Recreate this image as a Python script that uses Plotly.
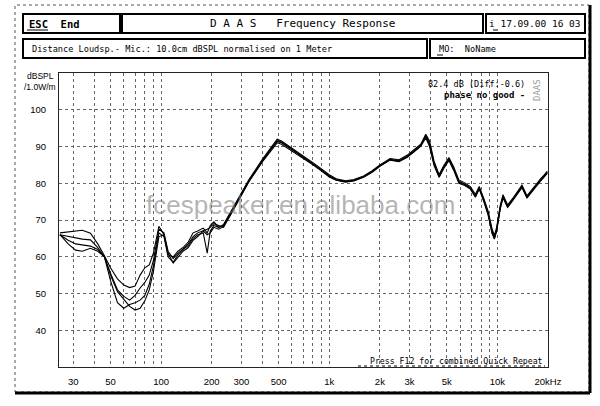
import plotly.graph_objects as go
import math

# ---------------- data ----------------
freq = [25, 28, 31, 34, 38, 42, 46, 50, 55, 60, 65, 70, 75, 80, 85, 90, 97, 104, 110, 118,
        126, 135, 145, 155, 165, 178, 188, 196, 206, 220, 235, 260, 300, 333, 400, 450, 490, 520, 600, 700,
        800, 900, 1000, 1100, 1250, 1400, 1600, 1800, 2000, 2300, 2600, 2900, 3200, 3500, 3750, 3950, 4200, 4500, 4800, 5150,
        5500, 5900, 6400, 6900, 7400, 7800, 8300, 8800, 9300, 9600, 9900, 10400, 10800, 11500, 12300, 13200, 14000, 15000, 16000, 17000,
        18000, 19000, 19800]

spl_a = [66.5, 66.8, 67.0, 67.2, 66.4, 63.5, 60.3, 57.0, 54.0, 52.3, 51.6, 52.0, 55.0, 57.0, 57.8, 61.0, 68.3, 66.0, 60.5, 60.0,
         61.5, 62.5, 64.0, 66.5, 67.0, 67.8, 66.5, 68.5, 69.5, 68.0,
         68.5, 72.0, 77.0, 80.7, 86.2, 89.5, 91.6, 91.2, 89.3, 87.2, 85.3, 83.6, 82.0, 81.0, 80.5, 80.8, 81.8, 83.2, 84.8, 86.5,
         86.1, 87.3, 88.8, 90.3, 93.0, 91.0, 85.5, 82.0, 84.5, 86.6, 84.0, 80.5, 79.8, 78.8, 76.6, 78.8, 75.5, 72.0, 67.0, 65.2,
         67.5, 73.5, 76.5, 73.8, 75.5, 77.5, 79.2, 76.3, 78.0, 79.5, 80.8, 82.0, 83.0]

spl_b = [66.0, 65.5, 65.0, 64.8, 64.6, 62.5, 60.0, 55.5, 51.0, 49.2, 48.2, 49.5, 51.5, 53.0, 55.0, 59.0, 67.5, 66.5, 61.5, 59.5,
         61.0, 62.0, 63.5, 65.5, 66.5, 67.0, 67.5, 68.0, 69.0, 68.5,
         68.0, 71.5, 76.6, 80.4, 85.8, 89.0, 91.0, 90.6, 88.8, 86.8, 85.0, 83.3, 81.7, 80.8, 80.3, 80.6, 81.6, 83.0, 84.6, 86.3,
         85.9, 87.0, 88.5, 90.0, 92.3, 90.0, 84.8, 81.6, 84.0, 86.2, 83.5, 80.0, 79.4, 78.4, 76.2, 78.4, 75.0, 71.4, 66.3, 64.8,
         67.0, 73.0, 76.0, 73.4, 75.2, 77.2, 78.8, 76.0, 77.7, 79.2, 80.5, 81.7, 82.7]

spl_c = [66.0, 64.5, 63.5, 63.2, 62.9, 62.0, 60.0, 53.5, 47.5, 46.0, 47.0, 47.5, 48.2, 49.5, 52.5, 57.5, 66.5, 65.5, 60.0, 58.5,
         60.5, 62.0, 63.0, 65.0, 66.0, 66.5, 61.0, 67.0, 68.5, 68.0,
         68.8, 72.3, 77.3, 81.0, 86.5, 89.8, 92.0, 91.5, 89.6, 87.5, 85.6, 83.9, 82.3, 81.2, 80.7, 81.0, 82.0, 83.4, 85.0, 86.7,
         86.4, 87.6, 89.1, 90.6, 93.3, 91.5, 86.0, 82.4, 84.8, 87.0, 84.4, 80.9, 80.1, 79.1, 77.0, 79.1, 75.9, 72.5, 67.6, 65.8,
         68.0, 74.0, 76.9, 74.1, 75.8, 77.8, 79.5, 76.6, 78.3, 79.8, 81.1, 82.3, 83.3]

spl_d = [66.0, 63.5, 61.8, 61.5, 62.3, 61.5, 60.0, 55.0, 50.5, 48.5, 46.5, 45.5, 46.0, 48.0, 51.0, 56.0, 65.5, 66.0, 61.0, 58.3,
         60.0, 61.5, 62.5, 64.5, 65.5, 67.0, 66.0, 66.5, 68.0, 67.5,
         68.2, 71.8, 76.8, 80.6, 86.0, 89.3, 91.3, 91.0, 89.1, 87.0, 85.2, 83.5, 81.9, 80.9, 80.4, 80.7, 81.7, 83.1, 84.7, 86.4,
         86.0, 87.2, 88.6, 90.2, 92.7, 90.5, 85.2, 81.8, 84.3, 86.4, 83.8, 80.3, 79.6, 78.6, 76.4, 78.6, 75.3, 71.7, 66.6, 65.0,
         67.2, 73.3, 76.3, 73.6, 75.4, 77.4, 79.0, 76.2, 77.9, 79.4, 80.7, 81.9, 82.9]

x_grid = [30, 40, 50, 60, 70, 80, 90, 100, 200, 300, 400, 500, 600, 700, 800, 900,
          1000, 2000, 3000, 4000, 5000, 6000, 7000, 8000, 9000, 10000, 19990]
x_labels = {30: "30", 50: "50", 100: "100", 200: "200", 300: "300", 500: "500",
            1000: "1k", 2000: "2k", 3000: "3k", 5000: "5k", 10000: "10k", 19990: "20kHz"}
y_ticks = [40, 50, 60, 70, 80, 90, 100]

# ---------------- layout geometry (pixels) ----------------
W, H = 600, 406
L, R, T, B = 59, 548, 73, 367


def px(x):
    return (x - L) / (R - L)


def py(y):
    return (B - y) / (B - T)


fig = go.Figure()
for s in (spl_a, spl_b, spl_c, spl_d):
    fig.add_trace(go.Scatter(x=freq, y=s, mode="lines",
                             line=dict(color="black", width=1.1),
                             showlegend=False, hoverinfo="skip"))

mono = "DejaVu Sans Mono"
sans = "Liberation Sans"

shapes = []
# outer frame
shapes.append(dict(type="rect", xref="paper", yref="paper",
                   x0=px(15), x1=px(589), y0=py(392), y1=py(5),
                   line=dict(color="#555", width=1, dash="dot")))
shapes.append(dict(type="line", xref="paper", yref="paper",
                   x0=px(15), x1=px(590), y0=py(393), y1=py(393),
                   line=dict(color="black", width=3)))
shapes.append(dict(type="line", xref="paper", yref="paper",
                   x0=px(590), x1=px(590), y0=py(5), y1=py(393),
                   line=dict(color="black", width=3)))
# header boxes
for (x0, x1, y0, y1) in [(23, 120, 14, 33), (122, 483, 14, 33), (486, 585, 14, 33),
                         (23, 427, 39, 58), (430, 585, 39, 58)]:
    shapes.append(dict(type="rect", xref="paper", yref="paper",
                       x0=px(x0), x1=px(x1), y0=py(y1), y1=py(y0),
                       line=dict(color="black", width=2)))
# underlines
shapes.append(dict(type="line", xref="paper", yref="paper",
                   x0=px(27), x1=px(48), y0=py(30), y1=py(30),
                   line=dict(color="black", width=1)))
shapes.append(dict(type="line", xref="paper", yref="paper",
                   x0=px(493), x1=px(498), y0=py(30), y1=py(30),
                   line=dict(color="black", width=1)))
shapes.append(dict(type="line", xref="paper", yref="paper",
                   x0=px(437), x1=px(443), y0=py(55), y1=py(55),
                   line=dict(color="black", width=1)))
shapes.append(dict(type="line", xref="paper", yref="paper",
                   x0=px(358), x1=px(545), y0=py(366), y1=py(366),
                   line=dict(color="black", width=1, dash="dot")))
fig.update_layout(shapes=shapes)

ann = []


def add_text(x, y, text, size, font=mono, anchor="left", color="black", angle=0):
    ann.append(dict(xref="paper", yref="paper", x=px(x), y=py(y), text=text,
                    showarrow=False, xanchor=anchor, yanchor="middle", textangle=angle,
                    font=dict(family=font, size=size, color=color)))


add_text(27, 23.5, "<b>ESC  End</b>", 10.5)
add_text(302.5, 23.5, "D A A S   Frequency Response", 11, anchor="center")
add_text(583, 23.5, "i 17.09.00 16 03", 9.5, anchor="right")
add_text(30, 48.5, "Distance Loudsp.- Mic.: 10.0cm dBSPL normalised on 1 Meter", 8.6)
add_text(437, 48.5, "MO:  NoName", 8.6)
add_text(527, 83.5, "82.4 dB (Diff:-0.6)", 8.5, anchor="right")
add_text(527, 94.5, "<b>phase no good -</b>", 9, anchor="right")
add_text(537, 90, "DAAS", 9, color="#999", anchor="center", angle=-90)
add_text(545, 361, "Press F12 for combined Quick Repeat", 8.2, anchor="right")
add_text(40, 76, "dBSPL", 8.5, font=sans, anchor="center")
add_text(40, 87, "/1.0W/m", 8.5, font=sans, anchor="center")
add_text(300, 205, "fcespeaker.en.alibaba.com", 26, font="Liberation Sans",
         anchor="center", color="rgba(130,130,130,0.6)")
fig.update_layout(annotations=ann)

fig.update_xaxes(type="log", range=[math.log10(24.7), math.log10(20000)],
                 tickvals=x_grid, ticktext=[x_labels.get(v, "") for v in x_grid],
                 showgrid=True, gridcolor="#666", griddash="dot", gridwidth=1,
                 showline=True, linecolor="#222", linewidth=1, mirror=True,
                 ticks="outside", ticklen=6, tickcolor="rgba(0,0,0,0)",
                 tickfont=dict(family=sans, size=9.5, color="black"), zeroline=False)
fig.update_yaxes(range=[30, 110], tickvals=y_ticks,
                 showgrid=True, gridcolor="#666", griddash="dot", gridwidth=1,
                 showline=True, linecolor="#222", linewidth=1, mirror=True,
                 ticks="outside", ticklen=10, tickcolor="rgba(0,0,0,0)",
                 tickfont=dict(family=sans, size=9.5, color="black"), zeroline=False)

fig.update_layout(width=W, height=H, margin=dict(l=L, r=W - R, t=T, b=H - B),
                  paper_bgcolor="white", plot_bgcolor="white")

fig.write_html("out.html", config={"displayModeBar": False},
               post_script="document.body.style.margin='0px';document.body.style.overflow='hidden';")
